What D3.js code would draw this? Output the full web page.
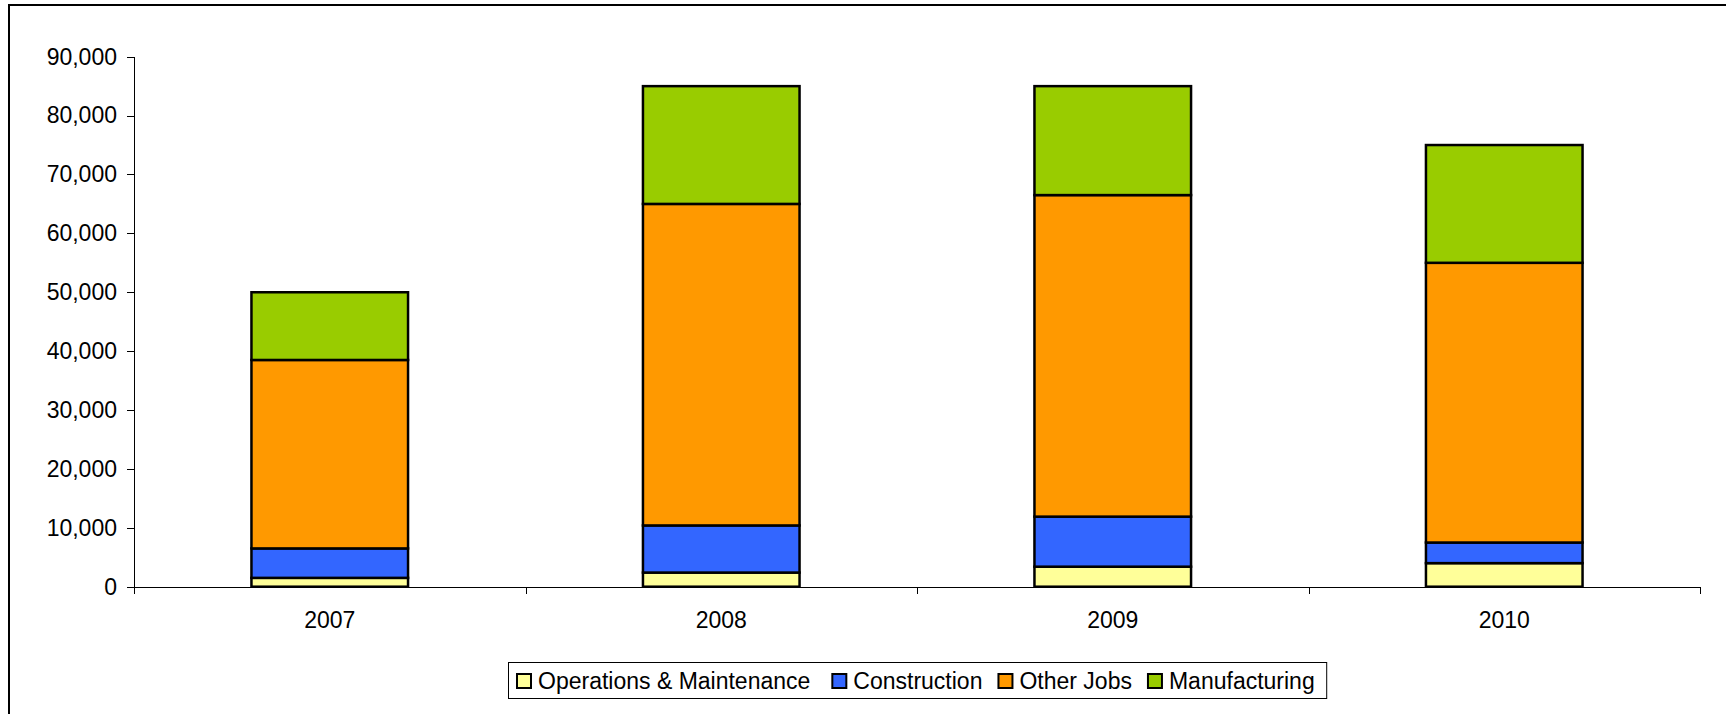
<!DOCTYPE html>
<html>
<head>
<meta charset="utf-8">
<script src="https://cdn.jsdelivr.net/npm/d3@7"></script>
<style>
  body { margin: 0; background: #fff; }
  svg { display: block; font-family: "Liberation Sans", Arial, sans-serif; }
  .axis text { font-size: 23px; fill: #000; }
  .axis line, .axis path { stroke: #000; shape-rendering: crispEdges; }
  .legend text { font-size: 23px; fill: #000; }
</style>
</head>
<body>
<div id="chart"></div>
<script>
const years = ['2007', '2008', '2009', '2010']
const seriesNames = ['Operations & Maintenance', 'Construction', 'Other Jobs', 'Manufacturing']
const seriesColors = ['#FFFF99', '#3366FF', '#FF9900', '#99CC00']
const operations = [1500, 2400, 3400, 4000]
const construction = [5000, 8000, 8500, 3500]
const otherJobs = [32000, 54600, 54600, 47500]
const manufacturing = [11500, 20000, 18500, 20000]
const yTicks = [0, 10000, 20000, 30000, 40000, 50000, 60000, 70000, 80000, 90000]

const width = 1726
const height = 714
const margin = { top: 56.7, right: 26, bottom: 127.3, left: 134 }

// Build rows for the stack layout
const rows = years.map((year, i) => ({
  year,
  'Operations & Maintenance': operations[i],
  'Construction': construction[i],
  'Other Jobs': otherJobs[i],
  'Manufacturing': manufacturing[i]
}))

const stacked = d3.stack().keys(seriesNames)(rows)

const x = d3.scaleBand()
  .domain(years)
  .range([margin.left, width - margin.right])
  .paddingInner(0.6)
  .paddingOuter(0.3)

// boundaries between categories for the tick marks
const xEdge = d3.scaleLinear()
  .domain([0, years.length])
  .range([margin.left, width - margin.right])

const y = d3.scaleLinear()
  .domain([0, 90000])
  .range([height - margin.bottom, margin.top])

const color = d3.scaleOrdinal().domain(seriesNames).range(seriesColors)

const svg = d3.select('#chart')
  .append('svg')
  .attr('width', width)
  .attr('height', height)

// outer chart frame (runs off the right and bottom edges)
svg.append('rect')
  .attr('x', 9)
  .attr('y', 5)
  .attr('width', width + 20)
  .attr('height', height + 20)
  .attr('fill', 'none')
  .attr('stroke', '#000')
  .attr('stroke-width', 2)

const yAxis = d3.axisLeft(y)
  .tickValues(yTicks)
  .tickSize(7)
  .tickSizeOuter(0)
  .tickPadding(10)
  .tickFormat(d3.format(','))

svg.append('g')
  .attr('class', 'axis axis--y')
  .attr('transform', `translate(${margin.left}, 0)`)
  .call(yAxis)

// tick marks between the years, no labels
svg.append('g')
  .attr('class', 'axis axis--x')
  .attr('transform', `translate(0, ${y(0)})`)
  .call(d3.axisBottom(xEdge).ticks(years.length).tickSize(7).tickSizeOuter(0).tickFormat(''))

// year labels, no tick marks
svg.append('g')
  .attr('class', 'axis axis--x')
  .attr('transform', `translate(0, ${y(0)})`)
  .call(d3.axisBottom(x).tickSize(0).tickPadding(25))
  .call(g => g.select('.domain').remove())

svg.append('g')
  .selectAll('g')
  .data(stacked)
  .join('g')
  .attr('fill', d => color(d.key))
  .selectAll('rect')
  .data(d => d)
  .join('rect')
  .attr('x', d => x(d.data.year))
  .attr('y', d => y(d[1]))
  .attr('width', x.bandwidth())
  .attr('height', d => y(d[0]) - y(d[1]))
  .attr('stroke', '#000')
  .attr('stroke-width', 2.5)

/* Legend */
const legend = svg.append('g').attr('class', 'legend')
const legendBox = legend.append('rect')
  .attr('fill', '#fff')
  .attr('stroke', '#000')
  .attr('stroke-width', 1)

const swatch = 14
const legendLeft = 517
const legendMid = 681
let cursor = legendLeft

seriesNames.forEach((name, i) => {
  legend.append('rect')
    .attr('x', cursor)
    .attr('y', legendMid - swatch / 2)
    .attr('width', swatch)
    .attr('height', swatch)
    .attr('fill', seriesColors[i])
    .attr('stroke', '#000')
    .attr('stroke-width', 2)
  const label = legend.append('text')
    .attr('x', cursor + swatch + 7)
    .attr('y', legendMid)
    .attr('dy', '0.35em')
    .text(name)
  cursor += swatch + 7 + label.node().getComputedTextLength() + (i === 0 ? 22 : 16)
})

legendBox
  .attr('x', 508.5)
  .attr('y', 662.5)
  .attr('width', cursor - 16 + 12 - 508.5)
  .attr('height', 36)
</script>
</body>
</html>
